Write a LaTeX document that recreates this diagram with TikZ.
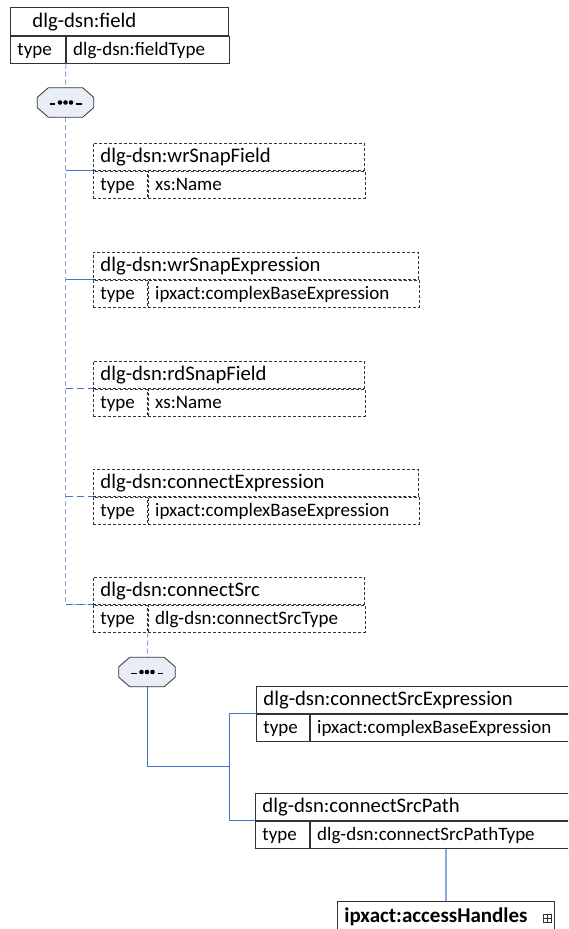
\documentclass[tikz,border=0pt]{standalone}
\usepackage{fontspec}
\setmainfont{Carlito}

\definecolor{boxline}{HTML}{333333}
\definecolor{linkdark}{HTML}{4472C4}
\definecolor{linklight}{HTML}{86AADB}
\definecolor{seqfill}{HTML}{E9EEF6}

\newcommand\elfont{\fontsize{20.7}{24}\selectfont}
\newcommand\typefont{\fontsize{19}{22}\selectfont}

\tikzset{
  cellbase/.style={anchor=north west, inner xsep=7pt, inner ysep=0pt,
    minimum height=27pt, align=left, font=\elfont,
    text height=16.5pt, text depth=4.5pt, line width=0.8pt},
  solidcell/.style={cellbase, draw=boxline},
  optcell/.style={cellbase, draw=boxline, dash pattern=on 3pt off 2pt},
  seqanchor/.style={minimum width=56pt, minimum height=29pt, inner sep=0pt},
  seqoutline/.style={draw=boxline, fill=seqfill, line width=0.8pt},
  trunk/.style={draw=linklight, line width=1pt, dash pattern=on 5pt off 3pt},
  branchsolid/.style={draw=linkdark, line width=1pt},
  branchdash/.style={draw=linkdark, line width=1pt, dash pattern=on 7pt off 4pt},
  childlink/.style={draw=linkdark, line width=1pt},
  reflink/.style={draw=linklight, line width=1.2pt},
}

% element box: name, left, top, title text width, type cell text width,
% value text width, title, type, cell style
\newcommand\elementbox[9]{%
  \node[#9, text width=#4pt] (#1) at (#2,#3) {#7};
  \node[#9, text width=#5pt, font=\typefont] (#1-k) at (#1.south west) {type};
  \node[#9, text width=#6pt, font=\typefont] (#1-t) at (#1-k.north east) {#8};
}

% sequence compositor: octagon with a dotted bar
\newcommand\seqbox[3]{%
  \node[seqanchor] (#1) at (#2,#3) {};
  \path[seqoutline]
    ([xshift=11pt]#1.north west) -- ([xshift=-11pt]#1.north east)
    -- ([yshift=-9.5pt]#1.north east) -- ([yshift=9.5pt]#1.south east)
    -- ([xshift=-11pt]#1.south east) -- ([xshift=11pt]#1.south west)
    -- ([yshift=9.5pt]#1.south west) -- ([yshift=-9.5pt]#1.north west) -- cycle;
  \fill[black] ([xshift=-5.5pt]#1.center) circle (2.3pt) (#1.center) circle (2.3pt)
               ([xshift=5.5pt]#1.center) circle (2.3pt);
  \draw[black, line width=1.6pt]
    ([xshift=-16pt,yshift=-1.5pt]#1.center) -- ([xshift=-10.5pt,yshift=-1.5pt]#1.center)
    ([xshift=10.5pt,yshift=-1.5pt]#1.center) -- ([xshift=16pt,yshift=-1.5pt]#1.center);
}

\begin{document}
\begin{tikzpicture}[x=1pt, y=-1pt]
  \useasboundingbox (0,0) rectangle (568,929);
  \clip (0,0) rectangle (568,929);

  % root element
  \node[solidcell, text width=204pt, minimum height=28pt] (field) at (10,7) {\hspace*{15pt}dlg-dsn:field};
  \node[solidcell, text width=41pt, font=\typefont] (field-k) at (field.south west) {type};
  \node[solidcell, text width=149pt, font=\typefont] (field-t) at (field-k.north east) {dlg-dsn:fieldType};

  % optional children
  \elementbox{wrsf}{93}{143}{257}{40}{203}{dlg-dsn:wrSnapField}{xs:Name}{optcell}
  \elementbox{wrse}{93}{252}{311}{40}{257}{dlg-dsn:wrSnapExpression}{ipxact:complexBaseExpression}{optcell}
  \elementbox{rdsf}{93}{361}{257}{40}{203}{dlg-dsn:rdSnapField}{xs:Name}{optcell}
  \elementbox{cexp}{93}{469}{311}{40}{257}{dlg-dsn:connectExpression}{ipxact:complexBaseExpression}{optcell}
  \elementbox{csrc}{93}{577}{257}{40}{203}{dlg-dsn:connectSrc}{dlg-dsn:connectSrcType}{optcell}

  % choice of source kinds
  \elementbox{cse}{256}{686}{299}{39}{246}{dlg-dsn:connectSrcExpression}{ipxact:complexBaseExpression}{solidcell}
  \elementbox{csp}{255}{793}{300}{40}{246}{dlg-dsn:connectSrcPath}{dlg-dsn:connectSrcPathType}{solidcell}

  % referenced group
  \node[solidcell, text width=203pt, minimum height=30pt, font=\fontsize{21}{24}\selectfont\bfseries] (ah) at (337,901)
    {ipxact:accessHandles};
  \node[draw=boxline, line width=0.6pt, minimum size=8pt, inner sep=0pt,
        path picture={\draw[line width=0.6pt] (path picture bounding box.north) -- (path picture bounding box.south)
                        (path picture bounding box.west) -- (path picture bounding box.east);}]
    (ahplus) at (547,918) {};

  % connectors of the root sequence
  \coordinate (s1top) at (65.5,88);
  \coordinate (s1bot) at (65.5,117);
  \path[trunk] (field-k.south east) -- (s1top);
  \path[trunk] (s1bot) |- (csrc.south west);
  \coordinate (bw1) at (s1bot |- wrsf.south west);
  \coordinate (bw2) at (s1bot |- wrse.south west);
  \coordinate (br1) at (s1bot |- rdsf.south west);
  \coordinate (bc1) at (s1bot |- cexp.south west);
  \coordinate (bc2) at (s1bot |- csrc.south west);
  \path[branchsolid] (bw1) -- (wrsf.south west);
  \path[branchsolid] (bw2) -- (wrse.south west);
  \path[branchdash] (br1) -- (rdsf.south west);
  \path[branchdash] (bc1) -- (cexp.south west);
  \path[branchdash] (bc2) -- (csrc.south west);
  \seqbox{seq1}{65.5}{102.5}

  % connectors of connectSrc
  \coordinate (fork) at (229,766);
  \path[trunk] (csrc-k.south east) -- (147,672);
  \path[childlink] (147,672) |- (fork);
  \path[childlink] (fork) |- (cse.south west);
  \path[childlink] (fork) |- (csp.south west);
  \seqbox{seq2}{147}{672}
  \path[reflink] (ah.north |- csp-t.south) -- (ah.north);
\end{tikzpicture}
\end{document}
